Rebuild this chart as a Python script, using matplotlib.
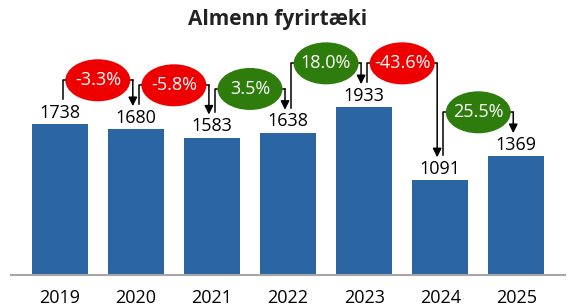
import matplotlib
matplotlib.use("Agg")
import matplotlib.pyplot as plt
from matplotlib.patches import Ellipse

years = ["2019", "2020", "2021", "2022", "2023", "2024", "2025"]
values = [1738, 1680, 1583, 1638, 1933, 1091, 1369]
changes = ["-3.3%", "-5.8%", "3.5%", "18.0%", "-43.6%", "25.5%"]

BLUE = "#2B65A3"
RED = "#EE0000"
GREEN = "#2E7D0C"

plt.rcParams['font.family'] = ['Open Sans', 'DejaVu Sans']

fig = plt.figure(figsize=(5.74, 3.07), dpi=100)
ax = fig.add_axes([11 / 574, 32 / 307, 554 / 574, 234.4 / 307])

x = list(range(len(years)))
ax.bar(x, values, width=0.736, color=BLUE, zorder=2)

ax.set_xlim(-0.641, 6.64)
ax.set_ylim(0, 2700)

# value labels above bars
for xi, v in zip(x, values):
    ax.annotate(str(v), xy=(xi, v), xytext=(0, 4.6), textcoords="offset points",
                ha="center", va="baseline", fontsize=13, color="black")

# brackets with change ellipses
for i, lab in enumerate(changes):
    v0, v1 = values[i], values[i + 1]
    level = max(v0, v1) + 505
    xl = i + 0.036
    xr = i + 1 - 0.04
    ax.plot([xl, xl, xr], [v0 + 290, level, level], color="black", lw=1.1,
            solid_joinstyle="round", zorder=3)
    ax.annotate("", xy=(xr, v1 + 265), xytext=(xr, level),
                arrowprops=dict(arrowstyle="-|>", color="black", lw=1.1,
                                mutation_scale=13, shrinkA=0, shrinkB=0),
                zorder=3)
    col = RED if lab.startswith("-") else GREEN
    xm = i + 0.5
    ax.add_patch(Ellipse((xm, level), 0.854, 484, facecolor=col,
                         edgecolor="none", zorder=4))
    ax.text(xm, level, lab, ha="center", va="center", fontsize=13,
            color="white", zorder=5)

for s in ["top", "right", "left"]:
    ax.spines[s].set_visible(False)
ax.spines["bottom"].set_color("#A6A6A6")
ax.spines["bottom"].set_linewidth(1.5)
ax.spines["bottom"].set_zorder(3)
ax.set_yticks([])
ax.set_xticks(x)
ax.set_xticklabels(years, fontsize=13, color="black")
ax.tick_params(axis="x", length=0, pad=10)

fig.text(278 / 574, 1 - 25 / 307, "Almenn fyrirtæki", ha="center", va="baseline",
         fontsize=15, fontweight="bold", color="#222222")

fig.savefig("out.png", dpi=100)
